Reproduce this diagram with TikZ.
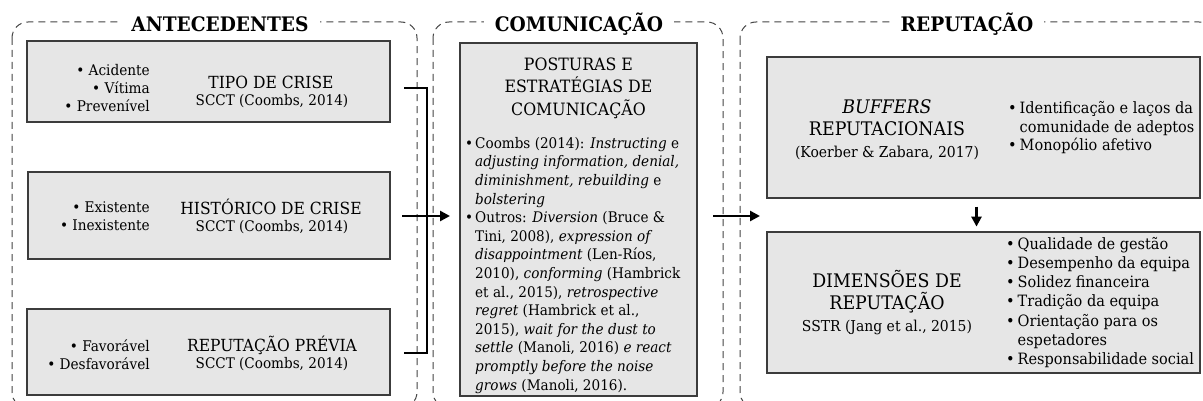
\documentclass[tikz,border=0pt]{standalone}
\usepackage{fontspec}
\setmainfont[FakeStretch=0.93]{DejaVu Serif}
\usetikzlibrary{arrows.meta}
\definecolor{boxfill}{HTML}{E6E6E6}
\definecolor{boxline}{HTML}{3C3C3C}
\definecolor{dashline}{HTML}{444444}
\newcommand\fsz[2]{\fontsize{#1}{#2}\selectfont}
\newcommand\bul{\makebox[10pt][l]{•}}
\newcommand\ind{\hspace*{10pt}}
\newcommand\rbul{\makebox[11.5pt][l]{•}}
\newcommand\rind{\hspace*{11.5pt}}
\newcommand\rsubf{\fsz{15}{16}}
\begin{document}
\begin{tikzpicture}[x=1pt,y=-1pt,
  container/.style={draw=dashline, line width=1pt, dash pattern=on 7pt off 5pt, rounded corners=16pt},
  box/.style={draw=boxline, fill=boxfill, line width=1.2pt, inner sep=0pt},
  ttl/.style={fill=white, inner xsep=11pt, inner ysep=3pt, font=\bfseries\fsz{20}{23}},
  hd/.style={inner sep=0pt, font=\fsz{16.7}{20}},
  sub/.style={inner sep=0pt, font=\fsz{14.6}{16}},
  bl/.style={inner sep=0pt, align=right, font=\fsz{14.7}{18}},
  body/.style={inner sep=0pt, align=left, font=\fsz{14.6}{18.6}},
  rbl/.style={inner sep=0pt, align=left, font=\fsz{15.6}{19.2}},
  rhd/.style={inner sep=0pt, align=center, font=\fsz{18.7}{22}},
  conn/.style={line width=2.5pt, black},
  arr/.style={conn, -{Triangle[length=10pt,width=10pt]}},
]
\useasboundingbox (0,0) rectangle (1203,401);

% containers
\draw[container] (12,22) rectangle (417,408);
\draw[container] (433,22) rectangle (723,408);
\draw[container] (740,22) rectangle (1215,408);

% titles
\node[ttl] (tA) at (220,24) {ANTECEDENTES};
\node[ttl] (tC) at (579,24) {COMUNICAÇÃO};
\node[ttl] (tR) at (967,24) {REPUTAÇÃO};

% left boxes
\node[box, minimum width=363pt, minimum height=81pt] (b1) at (208.5,81.5) {};
\node[box, minimum width=362pt, minimum height=87pt] (b2) at (209,215.5) {};
\node[box, minimum width=363pt, minimum height=86pt] (b3) at (208.5,352) {};

\node[bl, anchor=east] (l1) at (150,88) {•~Acidente\\•~Vítima\\•~Prevenível};
\node[hd] (h1) at (271,82) {TIPO DE CRISE};
\node[sub] (s1) at (272,101) {SCCT (Coombs, 2014)};

\node[bl, anchor=east] (l2) at (150,216) {•~Existente\\•~Inexistente};
\node[hd] (h2) at (271,207) {HISTÓRICO DE CRISE};
\node[sub] (s2) at (272,227) {SCCT (Coombs, 2014)};

\node[bl, anchor=east] (l3) at (150,355) {•~Favorável\\•~Desfavorável};
\node[hd] (h3) at (272,345) {REPUTAÇÃO PRÉVIA};
\node[sub] (s3) at (272,364) {SCCT (Coombs, 2014)};

% middle box
\node[box, minimum width=237pt, minimum height=353pt] (m) at (578.5,219.5) {};
\node[hd, align=center, font=\fsz{17}{22.5}] (mh) at (578.5,88) {POSTURAS E\\ESTRATÉGIAS DE\\COMUNICAÇÃO};
\node[body, anchor=north west] (mb) at (465,137) {%
\bul Coombs (2014): \textit{Instructing} e\\
\ind\textit{adjusting information, denial,}\\
\ind\textit{diminishment, rebuilding} e\\
\ind\textit{bolstering}\\
\bul Outros: \textit{Diversion} (Bruce \&\\
\ind Tini, 2008), \textit{expression of}\\
\ind\textit{disappointment} (Len-Ríos,\\
\ind 2010), \textit{conforming} (Hambrick\\
\ind et al., 2015), \textit{retrospective}\\
\ind\textit{regret} (Hambrick et al.,\\
\ind 2015), \textit{wait for the dust to}\\
\ind\textit{settle} (Manoli, 2016) \textit{e react}\\
\ind\textit{promptly before the noise}\\
\ind\textit{grows} (Manoli, 2016).};

% right boxes
\node[box, minimum width=433pt, minimum height=141pt] (r1) at (983.5,127.5) {};
\node[box, minimum width=433pt, minimum height=141pt] (r2) at (983.5,302.5) {};

\node[rhd] (r1t) at (887,130) {\textit{BUFFERS}\\REPUTACIONAIS\\{\rsubf(Koerber \& Zabara, 2017)}};
\node[rbl, anchor=west, font=\fsz{15.6}{18.5}] (r1b) at (1008,128) {\rbul Identificação e laços da\\\rind comunidade de adeptos\\\rbul Monopólio afetivo};

\node[rhd] (r2t) at (887,303) {DIMENSÕES DE\\REPUTAÇÃO\\{\rsubf SSTR (Jang et al., 2015)}};
\node[rbl, anchor=west] (r2b) at (1006,302.5) {\rbul Qualidade de gestão\\\rbul Desempenho da equipa\\\rbul Solidez financeira\\\rbul Tradição da equipa\\\rbul Orientação para os\\\rind espetadores\\\rbul Responsabilidade social};

% connectors
\coordinate (j1) at (404,88);
\coordinate (j2) at (402,216);
\coordinate (j3) at (404,353);
\coordinate (jv) at (427,88);
\coordinate (a1) at (450,216);
\draw[conn] (j1) -- (jv) |- (j3);
\draw[arr] (j2) -- (a1);

\coordinate (k1) at (713,216);
\coordinate (k2) at (760,216);
\draw[arr] (k1) -- (k2);

\draw[arr] (r1.south) ++(-7,8) coordinate (d1) -- ++(0,20) coordinate (d2);
\end{tikzpicture}
\end{document}
